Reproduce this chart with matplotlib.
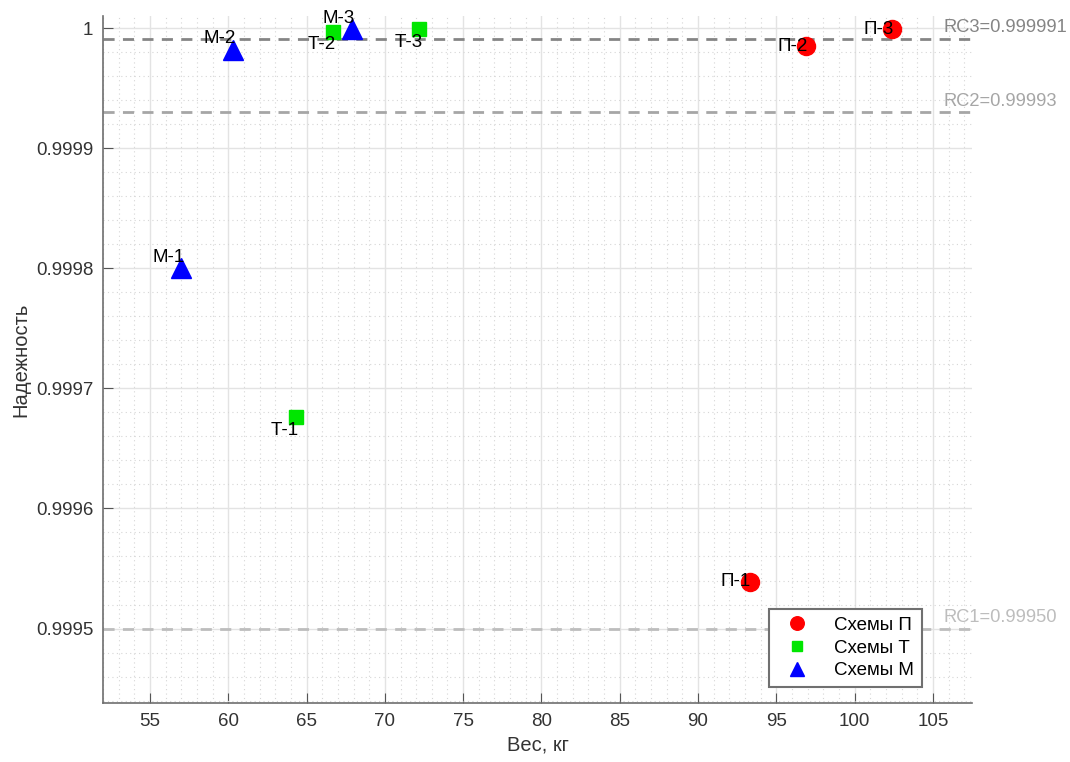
import matplotlib.pyplot as plt
from matplotlib.ticker import MultipleLocator, FuncFormatter

plt.rcParams['font.family'] = ['Liberation Sans', 'DejaVu Sans']

# Схемы П
p_names = ['П-1', 'П-2', 'П-3']
p_weight = [93.3, 96.9, 102.4]
p_rel = [0.999539, 0.999985, 0.999999]

# Схемы Т
t_names = ['Т-1', 'Т-2', 'Т-3']
t_weight = [64.3, 66.7, 72.2]
t_rel = [0.999676, 0.999997, 0.999999]

# Схемы М
m_names = ['М-1', 'М-2', 'М-3']
m_weight = [57.0, 60.3, 67.9]
m_rel = [0.99980, 0.999982, 0.999999]

# requirement levels
rc_names = ['RC1=0.99950', 'RC2=0.99993', 'RC3=0.999991']
rc_values = [0.9995, 0.99993, 0.999991]
rc_colors = ['#bdbdbd', '#a6a6a6', '#858585']

fig = plt.figure(figsize=(10.7, 7.62), dpi=100)
ax = fig.add_axes([0.0963, 0.0774, 0.8121, 0.9016])

ax.plot(p_weight, p_rel, 'o', color='red', ms=13, label='Схемы П', zorder=3)
ax.plot(t_weight, t_rel, 's', color='#00e600', ms=10, label='Схемы Т', zorder=3)
ax.plot(m_weight, m_rel, '^', color='blue', ms=14, label='Схемы М', zorder=3)

for name, x, y in zip(p_names, p_weight, p_rel):
    ax.text(x + 0.1, y, name, ha='right', va='center', fontsize=13.5, zorder=4)
for name, x, y in zip(t_names, t_weight, t_rel):
    ax.text(x + 0.2, y - 0.000004, name, ha='right', va='top', fontsize=13.5, zorder=4)
for name, x, y in zip(m_names, m_weight, m_rel):
    ax.text(x + 0.2, y + 0.000002, name, ha='right', va='bottom', fontsize=13.5, zorder=4)

for name, v, c in zip(rc_names, rc_values, rc_colors):
    ax.axhline(v, color=c, ls=(0, (4, 3)), lw=2, zorder=2)
    ax.text(105.7, v + 0.000002, name, color=c, fontsize=13.2, va='bottom', ha='left',
            clip_on=False)

ax.set_xlim(52, 107.5)
ax.set_ylim(0.999438, 1.00001)
ax.xaxis.set_major_locator(MultipleLocator(5))
ax.xaxis.set_minor_locator(MultipleLocator(1))
ax.yaxis.set_major_locator(MultipleLocator(0.0001))
ax.yaxis.set_minor_locator(MultipleLocator(0.00002))
ax.yaxis.set_major_formatter(FuncFormatter(lambda v, p: '{:g}'.format(round(v, 6))))

ax.grid(which='major', color='#e3e3e3', lw=1)
ax.grid(which='minor', color='#d6d6d6', lw=0.8, ls=(0, (1, 3)))
ax.set_axisbelow(True)

for s in ['top', 'right']:
    ax.spines[s].set_visible(False)
for s in ['left', 'bottom']:
    ax.spines[s].set_color('#6e6e6e')
    ax.spines[s].set_linewidth(1.2)
ax.tick_params(which='major', direction='in', length=7, color='#555555', labelsize=13.5,
               labelcolor='#333333', pad=7)
ax.tick_params(which='minor', length=0)

ax.set_xlabel('Вес, кг', fontsize=14.5, color='#333333', labelpad=4)
ax.set_ylabel('Надежность', fontsize=14.5, color='#333333', labelpad=4)

leg = ax.legend(loc='lower right', bbox_to_anchor=(0.953, 0.01), fontsize=13.5,
                fancybox=False, edgecolor='#707070', framealpha=1, markerscale=0.75,
                handletextpad=0.9, borderpad=0.4, labelspacing=0.3, handlelength=2.2)
leg.get_frame().set_linewidth(1.5)
leg.set_zorder(5)

fig.savefig('out.png', dpi=100)
